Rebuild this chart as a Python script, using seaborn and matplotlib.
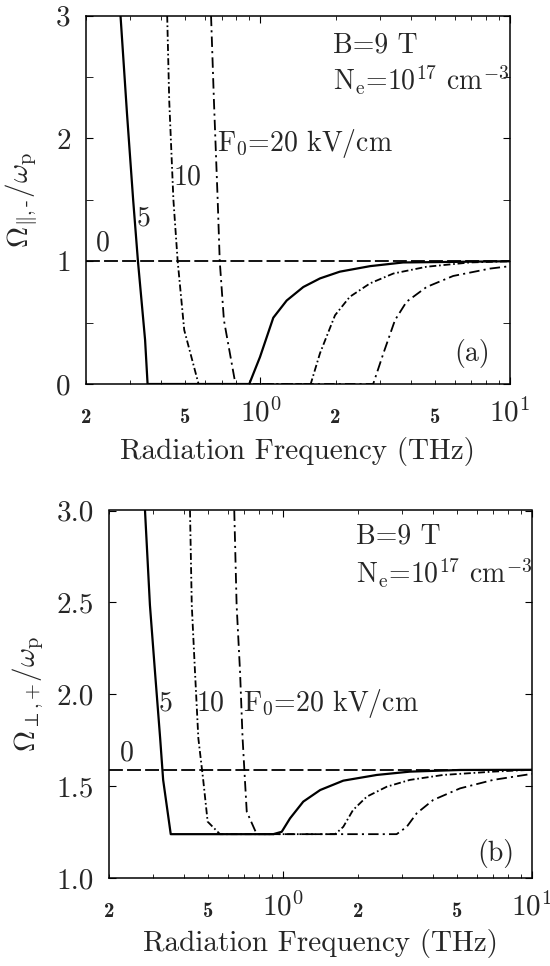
import matplotlib
matplotlib.use("Agg")
import matplotlib.pyplot as plt
import seaborn as sns
import pandas as pd

# ---------------- data ----------------
# panel (a): Omega_{par,-}/omega_p
A_F0_X = [0.2, 10.0]
A_F0_Y = [1.0, 1.0]
A_F5_X = [0.275, 0.292, 0.309, 0.323, 0.345, 0.353, 0.902, 0.996, 1.126, 1.274, 1.485, 1.732, 2.08, 2.75, 3.73, 10.0]
A_F5_Y = [3.0, 2.2, 1.5, 1.0, 0.358, 0.0, 0.0, 0.22, 0.54, 0.68, 0.79, 0.86, 0.915, 0.96, 0.99, 1.0]
A_F10_X = [0.423, 0.431, 0.448, 0.466, 0.495, 0.565, 1.59, 1.732, 1.99, 2.28, 2.75, 3.41, 4.63, 6.9, 10.0]
A_F10_Y = [3.0, 2.31, 1.5, 1.0, 0.44, 0.0, 0.0, 0.25, 0.56, 0.71, 0.82, 0.90, 0.955, 0.99, 1.0]
A_F20_X = [0.634, 0.651, 0.674, 0.687, 0.714, 0.794, 2.83, 3.11, 3.46, 3.85, 4.63, 5.92, 8.31, 10.0]
A_F20_Y = [3.0, 2.31, 1.5, 1.0, 0.52, 0.0, 0.0, 0.25, 0.52, 0.67, 0.79, 0.88, 0.94, 0.96]

# panel (b): Omega_{perp,+}/omega_p
B_F0_X = [0.2, 10.0]
B_F0_Y = [1.59, 1.59]
B_F5_X = [0.279, 0.292, 0.306, 0.321, 0.330, 0.354, 0.914, 0.988, 1.067, 1.206, 1.41, 1.746, 2.38, 3.23, 5.14, 10.0]
B_F5_Y = [3.0, 2.486, 2.123, 1.761, 1.535, 1.24, 1.24, 1.253, 1.326, 1.417, 1.48, 1.531, 1.562, 1.58, 1.589, 1.59]
B_F10_X = [0.423, 0.430, 0.443, 0.457, 0.478, 0.498, 0.558, 1.62, 1.746, 1.91, 2.17, 2.61, 3.23, 4.40, 6.98, 10.0]
B_F10_Y = [3.0, 2.486, 2.123, 1.761, 1.535, 1.308, 1.24, 1.24, 1.28, 1.371, 1.444, 1.498, 1.535, 1.562, 1.58, 1.59]
B_F20_X = [0.637, 0.651, 0.672, 0.688, 0.703, 0.715, 0.784, 2.86, 3.14, 3.44, 4.01, 5.14, 6.98, 10.0]
B_F20_Y = [3.0, 2.486, 2.123, 1.761, 1.535, 1.362, 1.24, 1.24, 1.28, 1.353, 1.426, 1.489, 1.535, 1.568]

XTICK_MAJOR = [1, 10]
XTICK_MAJOR_LABELS = ["$10^0$", "$10^1$"]
XTICK_MINOR = [0.2, 0.3, 0.4, 0.5, 0.6, 0.7, 0.8, 0.9, 2, 3, 4, 5, 6, 7, 8, 9]
XTICK_MINOR_LABELS = ["2", "", "", "5", "", "", "", "", "2", "", "", "5", "", "", "", ""]
A_YTICKS = [0, 1, 2, 3]
A_YTICK_LABELS = ["0", "1", "2", "3"]
B_YTICKS = [1.0, 1.5, 2.0, 2.5, 3.0]
B_YTICK_LABELS = ["1.0", "1.5", "2.0", "2.5", "3.0"]

XLABEL = "Radiation Frequency (THz)"
A_YLABEL = r"$\Omega_{\|,\text{-}}/\omega_\mathrm{p}$"
B_YLABEL = r"$\Omega_{\perp,\text{+}}/\omega_\mathrm{p}$"

# ---------------- style ----------------
sns.set_style("ticks")
plt.rcParams.update({
    "font.family": ["cmr10", "DejaVu Serif"],
    "mathtext.fontset": "cm",
    "axes.unicode_minus": False,
    "axes.formatter.use_mathtext": True,
    "lines.scale_dashes": False,
    "axes.edgecolor": "black",
    "axes.linewidth": 1.1,
})

STY = {
    "F0": dict(linestyle=(0, (10, 3)), linewidth=1.3),
    "F5": dict(linestyle="-", linewidth=1.6),
    "F10": dict(linestyle=(0, (5, 2, 1.2, 2)), linewidth=1.3),
    "F20": dict(linestyle=(0, (7.5, 3, 1.5, 3)), linewidth=1.3),
}

fig = plt.figure(figsize=(5.5, 9.66), dpi=100)
ax_a = fig.add_axes([86 / 550, 1 - 384 / 966, 424 / 550, 368.3 / 966])
ax_b = fig.add_axes([109 / 550, 1 - 878.3 / 966, 423 / 550, 367.8 / 966])


def draw(ax, series):
    for key, xs, ys in series:
        df = pd.DataFrame({"x": xs, "y": ys})
        sns.lineplot(data=df, x="x", y="y", ax=ax, color="black", sort=False,
                     estimator=None, legend=False, **STY[key])


draw(ax_a, [("F0", A_F0_X, A_F0_Y), ("F5", A_F5_X, A_F5_Y),
            ("F10", A_F10_X, A_F10_Y), ("F20", A_F20_X, A_F20_Y)])
draw(ax_b, [("F0", B_F0_X, B_F0_Y), ("F5", B_F5_X, B_F5_Y),
            ("F10", B_F10_X, B_F10_Y), ("F20", B_F20_X, B_F20_Y)])

for ax, yt, ytl, ylim, ylab in [
    (ax_a, A_YTICKS, A_YTICK_LABELS, (0, 3), A_YLABEL),
    (ax_b, B_YTICKS, B_YTICK_LABELS, (1, 3), B_YLABEL),
]:
    ax.set_xscale("log")
    ax.set_xlim(0.2, 10)
    ax.set_ylim(*ylim)
    ax.set_xticks(XTICK_MAJOR)
    ax.set_xticklabels(XTICK_MAJOR_LABELS, fontsize=21)
    ax.set_xticks(XTICK_MINOR, minor=True)
    ax.set_xticklabels(XTICK_MINOR_LABELS, minor=True, fontsize=15,
                       fontfamily=["cmb10", "DejaVu Serif"])
    ax.set_yticks(yt)
    ax.set_yticklabels(ytl, fontsize=21)
    ax.tick_params(axis="both", which="both", direction="in", top=True, right=True, color="black")
    ax.tick_params(axis="x", which="major", length=5, pad=10)
    ax.tick_params(axis="x", which="minor", length=3, pad=17)
    ax.tick_params(axis="y", which="major", length=5, pad=11)
    ax.tick_params(axis="y", which="minor", length=5)
    ax.set_xlabel(XLABEL, fontsize=21)
    ax.set_ylabel(ylab, fontsize=21)
    for s in ax.spines.values():
        s.set_visible(True)

ax_a.set_yticks([0.5, 1.5, 2.5], minor=True)
ax_a.xaxis.set_label_coords(0.5, -0.145)
ax_b.xaxis.set_label_coords(0.5, -0.138)
ax_a.yaxis.set_label_coords(-0.105, 0.5)
ax_b.yaxis.set_label_coords(-0.148, 0.5)

TXT = 20
# panel (a) annotations
ax_a.text(0.234, 1.04, "0", fontsize=TXT, ha="center", va="bottom")
ax_a.text(0.339, 1.35, "5", fontsize=TXT, ha="center", va="center")
ax_a.text(0.512, 1.68, "10", fontsize=TXT, ha="center", va="center")
ax_a.text(0.672, 1.96, r"F$_0$=20 kV/cm", fontsize=TXT, ha="left", va="center")
ax_a.text(1.96, 2.76, "B=9 T", fontsize=TXT, ha="left", va="center")
ax_a.text(1.96, 2.47, r"N$_\mathrm{e}$=10$^{17}$ cm$^{-3}$", fontsize=TXT, ha="left", va="center")
ax_a.text(8.3, 0.25, "(a)", fontsize=TXT, ha="right", va="center")

# panel (b) annotations
ax_b.text(0.235, 1.61, "0", fontsize=TXT, ha="center", va="bottom")
ax_b.text(0.336, 1.95, "5", fontsize=TXT, ha="center", va="center")
ax_b.text(0.511, 1.95, "10", fontsize=TXT, ha="center", va="center")
ax_b.text(0.69, 1.95, r"F$_0$=20 kV/cm", fontsize=TXT, ha="left", va="center")
ax_b.text(1.97, 2.86, "B=9 T", fontsize=TXT, ha="left", va="center")
ax_b.text(1.97, 2.66, r"N$_\mathrm{e}$=10$^{17}$ cm$^{-3}$", fontsize=TXT, ha="left", va="center")
ax_b.text(8.5, 1.136, "(b)", fontsize=TXT, ha="right", va="center")

fig.savefig("out.png", dpi=100, facecolor="white")
